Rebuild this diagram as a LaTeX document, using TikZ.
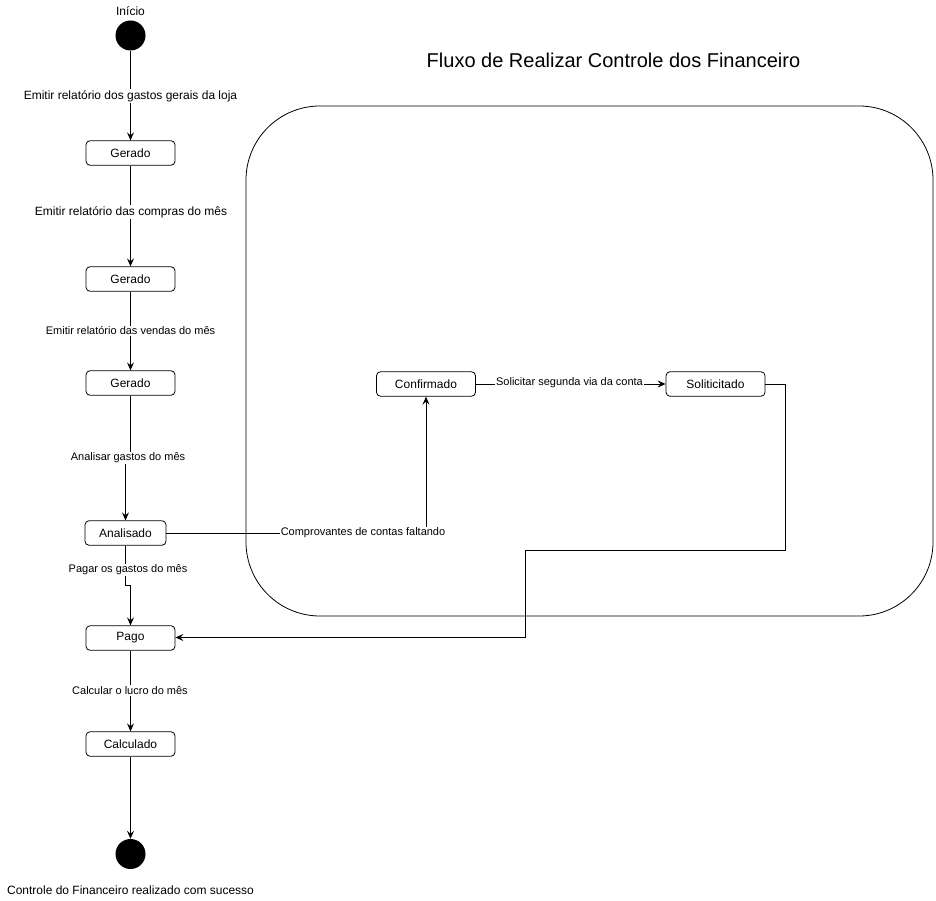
\documentclass[tikz,border=0pt]{standalone}
\usepackage{fontspec}
\setmainfont{Liberation Sans}
\usetikzlibrary{arrows.meta}
\begin{document}
\begin{tikzpicture}[x=1pt,y=-1pt,
  state/.style={draw,rounded corners=4pt,minimum height=24.5pt,inner sep=0pt,font=\fontsize{12}{14}\selectfont,line width=0.8pt},
  lbl/.style={fill=white,inner sep=1pt,font=\fontsize{11}{13}\selectfont},
  lblbig/.style={lbl,font=\fontsize{12}{14}\selectfont},
  dot/.style={circle,fill=black,minimum size=30pt,inner sep=0pt},
  arr/.style={draw,line width=0.9pt,-{Stealth[length=8pt,width=7pt,inset=3pt]}},
  ln/.style={draw,line width=0.9pt}]
\useasboundingbox (0,0) rectangle (936,901);
\fill[white] (0,0) rectangle (936,901);
% container
\draw[line width=0.8pt,rounded corners=74pt] (246,106) rectangle (933,616);
\node[font=\fontsize{20}{24}\selectfont] (title) at (613.5,60) {Fluxo de Realizar Controle dos Financeiro};
% left column
\node[dot] (start) at (130.5,35.5) {};
\node[font=\fontsize{12}{14}\selectfont] (startlbl) at (130.5,11) {Início};
\node[state,minimum width=89pt] (g1) at (130.5,153) {Gerado};
\node[state,minimum width=89pt] (g2) at (130.5,279) {Gerado};
\node[state,minimum width=89pt] (g3) at (130.5,383) {Gerado};
\node[state,minimum width=81pt] (ana) at (125.5,533) {Analisado};
\node[state,minimum width=89pt] (pago) at (130.5,638) {Pago};
\node[state,minimum width=89pt] (calc) at (130.5,744) {Calculado};
\node[dot] (end) at (130.5,854) {};
\node[font=\fontsize{12}{14}\selectfont] (endlbl) at (130.5,890) {Controle do Financeiro realizado com sucesso};
% right nodes
\node[state,minimum width=99pt] (conf) at (426,384) {Confirmado};
\node[state,minimum width=99pt] (sol) at (715.5,384) {Soliticitado};
% edges
\draw[arr] (start) -- (g1);
\draw[arr] (g1) -- (g2);
\draw[arr] (g2) -- (g3);
\draw[arr] (g3.south) -- (130.5,458) -- (125.5,458) -- (ana.north);
\draw[arr] (ana.south) -- (125.5,585) -- (130.5,585) -- (pago.north);
\draw[arr] (pago) -- (calc);
\draw[arr] (calc) -- (end);
\draw[arr] (ana.east) -| (conf.south);
\draw[arr] (conf) -- (sol);
\draw[arr] (sol.east) -- (785.5,384) -- (785.5,550.5) -- (525.5,550.5) -- (525.5,637.5) -- (pago.east |- 0,637.5);
% edge labels
\node[lblbig] (l1) at (130.5,96) {Emitir relatório dos gastos gerais da loja};
\node[lblbig] (l2) at (131,212) {Emitir relatório das compras do mês};
\node[lbl] (l3) at (130.5,331) {Emitir relatório das vendas do mês};
\node[lbl] (l4) at (128,458) {Analisar gastos do mês};
\node[lbl] (l5) at (128,570) {Pagar os gastos do mês};
\node[lbl] (l6) at (130,690.5) {Calcular o lucro do mês};
\node[lbl] (l7) at (363,533) {Comprovantes de contas faltando};
\node[lbl] (l8) at (569.5,383) {Solicitar segunda via da conta};
\end{tikzpicture}
\end{document}
